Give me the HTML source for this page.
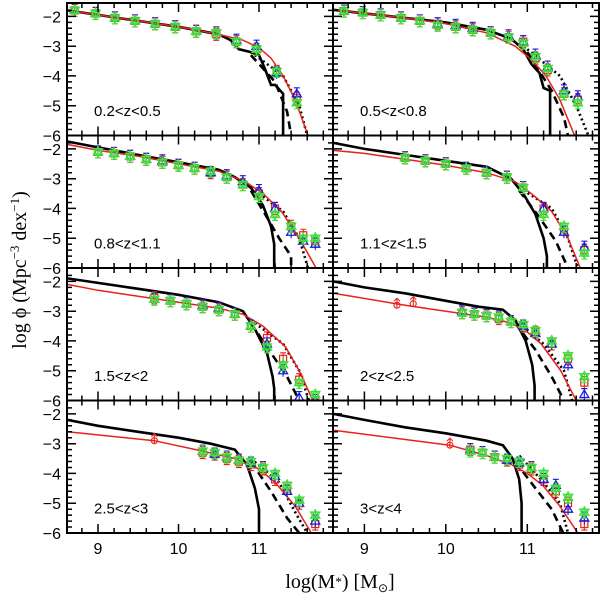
<!DOCTYPE html>
<html><head><meta charset="utf-8"><style>
html,body{margin:0;padding:0;background:#fff;}
svg{display:block;}
</style></head><body>
<svg id="chart" width="600" height="599" viewBox="0 0 600 599" xmlns="http://www.w3.org/2000/svg">
<g id="layer"></g>
<text x="340" y="588" text-anchor="middle" font-family="Liberation Serif, serif" font-size="20">log(M<tspan font-size="13" dy="-2">*</tspan><tspan dy="2">)  [M</tspan><tspan font-size="12" dy="4">⊙</tspan><tspan dy="-4">]</tspan></text>
<text transform="translate(26,270) rotate(-90)" text-anchor="middle" font-family="Liberation Serif, serif" font-size="20">log ϕ   (Mpc<tspan font-size="13" dy="-7">−3</tspan><tspan dy="7"> dex</tspan><tspan font-size="13" dy="-7">−1</tspan><tspan dy="7">)</tspan></text>
</svg>
<script>
const labels=["0.2<z<0.5","0.5<z<0.8","0.8<z<1.1","1.1<z<1.5","1.5<z<2","2<z<2.5","2.5<z<3","3<z<4"];
const redX=[[8.62,9,9.5,10,10.5,10.8,11,11.15,11.3,11.45,11.61],[8.62,9,9.5,10,10.5,10.85,11.05,11.23,11.4,11.58],[8.62,9,9.5,10,10.5,10.83,11.05,11.28,11.5,11.71],[8.62,9,9.5,10,10.5,10.85,11.05,11.3,11.5,11.65],[8.62,9,9.5,10,10.5,10.8,11.05,11.33,11.5,11.67],[8.62,9.5,10,10.5,10.8,11.0,11.17,11.41,11.6],[8.62,9.7,10.3,10.7,11.0,11.2,11.45,11.65],[8.62,10.05,10.5,10.8,11.0,11.19,11.4,11.62]];
const redY=[[-1.8,-1.95,-2.15,-2.35,-2.6,-2.8,-3.05,-3.4,-4.0,-4.8,-6],[-1.78,-1.9,-2.05,-2.25,-2.55,-3.0,-3.45,-4.0,-4.8,-6],[-1.85,-2.05,-2.25,-2.5,-2.75,-3.1,-3.5,-4.1,-5.0,-6],[-2.05,-2.15,-2.35,-2.55,-2.8,-3.1,-3.5,-4.1,-5.0,-6],[-2.1,-2.3,-2.5,-2.7,-2.9,-3.1,-3.5,-4.2,-5.0,-6],[-2.4,-2.8,-3.0,-3.2,-3.4,-3.7,-4.1,-5.0,-6],[-2.6,-2.9,-3.25,-3.5,-3.85,-4.3,-5.1,-6],[-2.55,-3.05,-3.4,-3.7,-4.0,-4.4,-5.1,-6]];
const solidX=[[8.62,9,9.5,10,10.5,10.65,10.75,10.9,11,11.08,11.15,11.2,11.3,11.3],[8.62,9,9.5,10,10.5,10.8,10.95,11.05,11.15,11.2,11.28,11.28],[8.62,9,9.5,10,10.5,10.7,10.9,11.05,11.15,11.19,11.19],[8.62,9,9.5,10,10.5,10.8,10.95,11.1,11.2,11.24,11.24],[8.62,9,9.5,10,10.5,10.8,10.95,11.1,11.17,11.19,11.19],[8.62,9,9.5,10,10.4,10.7,10.85,10.98,11.06,11.09,11.09],[8.62,9,9.5,10,10.4,10.7,10.85,10.95,11.0,11.0],[8.62,9,9.5,10,10.5,10.7,10.82,10.9,10.93,10.93]];
const solidY=[[-1.8,-1.95,-2.15,-2.35,-2.6,-2.8,-3.1,-3.2,-3.3,-3.8,-4.3,-4.3,-4.6,-6],[-1.78,-1.9,-2.05,-2.2,-2.45,-2.75,-3.1,-3.6,-3.9,-4.4,-4.5,-6],[-1.75,-1.95,-2.2,-2.45,-2.7,-2.95,-3.3,-3.9,-4.6,-5.2,-6],[-1.8,-2.0,-2.2,-2.4,-2.6,-3.0,-3.5,-4.2,-5.0,-5.6,-6],[-1.9,-2.05,-2.25,-2.45,-2.7,-3.0,-3.6,-4.4,-5.2,-5.6,-6],[-2.0,-2.2,-2.4,-2.65,-2.85,-2.95,-3.3,-4.0,-4.8,-5.5,-6],[-2.2,-2.4,-2.6,-2.8,-3.0,-3.2,-3.7,-4.5,-5.2,-6],[-2.0,-2.2,-2.45,-2.65,-2.9,-3.05,-3.5,-4.2,-5.0,-6]];
const dashX=[[10.9,11.2,11.35,11.4],[11.0,11.3,11.45,11.5],[10.9,11.1,11.25,11.4,11.4],[10.9,11.15,11.35,11.5],[10.9,11.15,11.35,11.5],[10.85,11.1,11.3,11.45],[10.9,11.15,11.35,11.5],[10.85,11.1,11.3,11.44]];
const dashY=[[-3.3,-4.2,-5.2,-6],[-3.2,-4.5,-5.4,-6],[-3.4,-4.3,-5.0,-5.6,-6],[-3.4,-4.3,-5.1,-6],[-3.4,-4.4,-5.2,-6],[-3.4,-4.3,-5.2,-6],[-3.6,-4.6,-5.5,-6],[-3.6,-4.5,-5.2,-6]];
const dotX=[[10.9,11.3,11.5,11.6],[11.0,11.4,11.6,11.75],[10.9,11.3,11.5,11.61],[10.9,11.3,11.5,11.62],[10.9,11.3,11.5,11.62],[10.85,11.2,11.45,11.55],[10.9,11.25,11.45,11.6],[10.9,11.2,11.4,11.5]];
const dotY=[[-3.2,-4.0,-5.0,-6],[-3.1,-4.0,-5.0,-6],[-3.3,-4.1,-5.0,-6],[-3.3,-4.0,-5.0,-6],[-3.3,-4.1,-5.0,-6],[-3.3,-4.1,-5.0,-6],[-3.5,-4.3,-5.3,-6],[-3.4,-4.3,-5.0,-6]];
const ptX=[[8.71,8.97,9.21,9.46,9.71,9.96,10.22,10.47,10.72,10.97,11.22,11.47],[8.75,8.98,9.2,9.45,9.68,9.9,10.12,10.33,10.55,10.77,10.95,11.1,11.25,11.45,11.62],[9.0,9.2,9.4,9.6,9.8,10.0,10.2,10.4,10.6,10.8,11.0,11.2,11.4,11.55,11.7],[9.5,9.75,10.0,10.25,10.5,10.75,10.95,11.2,11.45,11.7],[9.7,9.9,10.1,10.3,10.5,10.7,10.9,11.1,11.3,11.5,11.7],[10.2,10.35,10.5,10.65,10.8,10.95,11.1,11.3,11.5,11.7],[10.3,10.45,10.6,10.75,10.9,11.05,11.2,11.35,11.5,11.7],[10.3,10.45,10.6,10.75,10.9,11.05,11.2,11.35,11.5,11.7]];
const sqY=[[-1.8,-1.9,-2.05,-2.15,-2.25,-2.35,-2.5,-2.6,-2.85,-3.1,-3.85,-4.75],[-1.82,-1.87,-1.95,-2.05,-2.15,-2.25,-2.35,-2.45,-2.55,-2.7,-2.85,-3.4,-3.8,-4.6,-4.8],[-2.1,-2.15,-2.25,-2.35,-2.45,-2.55,-2.65,-2.8,-2.95,-3.2,-3.5,-4.0,-4.6,-4.9,-5.1],[-2.3,-2.4,-2.5,-2.65,-2.8,-2.95,-3.3,-4.0,-4.7,-5.4],[-2.55,-2.65,-2.75,-2.85,-2.95,-3.1,-3.5,-3.9,-4.6,-5.3,-6.0],[-3.05,-3.1,-3.15,-3.25,-3.35,-3.5,-3.7,-4.1,-4.6,-5.4],[-3.3,-3.35,-3.5,-3.6,-3.7,-3.85,-4.2,-4.5,-5.0,-5.7],[-3.2,-3.3,-3.45,-3.55,-3.7,-3.85,-4.2,-4.6,-5.0,-5.7]];
const triY=[[-1.78,-1.9,-2.05,-2.15,-2.25,-2.35,-2.5,-2.55,-2.8,-3.0,-3.9,-4.6],[-1.82,-1.87,-1.95,-2.05,-2.15,-2.25,-2.3,-2.4,-2.55,-2.65,-2.85,-3.3,-3.7,-4.5,-4.7],[-2.1,-2.15,-2.25,-2.35,-2.4,-2.55,-2.65,-2.8,-2.9,-3.1,-3.4,-4.0,-4.8,-5.1,-5.2],[-2.3,-2.4,-2.5,-2.65,-2.8,-2.95,-3.3,-4.0,-4.8,-5.3],[-2.6,-2.65,-2.75,-2.8,-2.9,-3.1,-3.5,-4.1,-5.0,-5.9,-6.0],[-3.0,-3.1,-3.15,-3.2,-3.35,-3.5,-3.75,-4.1,-4.8,-5.8],[-3.25,-3.35,-3.45,-3.55,-3.65,-3.8,-4.1,-4.6,-5.0,-5.6],[-3.2,-3.3,-3.45,-3.55,-3.65,-3.8,-4.2,-4.4,-5.2,-5.5]];
const starY=[[-1.8,-1.9,-2.05,-2.15,-2.25,-2.35,-2.5,-2.55,-2.85,-3.1,-3.85,-4.9],[-1.82,-1.87,-1.95,-2.05,-2.15,-2.3,-2.35,-2.45,-2.55,-2.7,-2.9,-3.35,-3.75,-4.6,-4.9],[-2.1,-2.15,-2.25,-2.35,-2.45,-2.55,-2.65,-2.75,-2.95,-3.2,-3.6,-4.2,-4.6,-5.0,-5.0],[-2.3,-2.4,-2.5,-2.65,-2.8,-2.95,-3.3,-4.2,-4.6,-5.5],[-2.6,-2.65,-2.75,-2.85,-2.95,-3.1,-3.5,-4.2,-4.8,-5.4,-5.8],[-3.05,-3.1,-3.15,-3.2,-3.35,-3.45,-3.65,-4.0,-4.5,-5.2],[-3.25,-3.3,-3.45,-3.55,-3.6,-3.8,-4.0,-4.4,-4.9,-5.4],[-3.25,-3.3,-3.45,-3.5,-3.6,-3.8,-4.0,-4.5,-4.8,-5.3]];
const limX=[[],[],[],[],[],[9.4,9.6],[9.7],[10.05]];
const limY=[[],[],[],[],[],[-2.8,-2.75],[-2.9],[-3.05]];
const xTicks=[9,10,11];
const yTicks=[-2,-3,-4,-5,-6];

const NS="http://www.w3.org/2000/svg";
const layer=document.getElementById('layer');
const XMIN=8.615,YMIN=-6,YMAX=-1.55;
const colXmax=[11.92,11.88];
const colX=[67,333],W=266,rowY=[3,135.5,268,400.5],H=132.5;
function mk(tag,attrs,parent){const e=document.createElementNS(NS,tag);for(const k in attrs)e.setAttribute(k,attrs[k]);(parent||layer).appendChild(e);return e;}
for(let p=0;p<8;p++){
  const c=p%2,r=Math.floor(p/2),x0=colX[c],y0=rowY[r],XMAX=colXmax[c];
  const sx=v=>x0+(v-XMIN)/(XMAX-XMIN)*W;
  const sy=v=>y0+(YMAX-v)/(YMAX-YMIN)*H;
  const g=mk('g',{});
  
  
  const cp=mk('clipPath',{id:'cp'+p},g);mk('rect',{x:x0,y:y0,width:W,height:H},cp);
  const inner=mk('g',{'clip-path':'url(#cp'+p+')'},g);
  const line=(xs,ys,attrs,name)=>{const d=xs.map((v,i)=>(i?'L':'M')+sx(v).toFixed(1)+' '+sy(ys[i]).toFixed(1)).join('');const e=mk('path',Object.assign({d:d,fill:'none'},attrs),inner);return e;};
  line(solidX[p],solidY[p],{stroke:'#000','stroke-width':2.6},'model-solid-line');
  line(dashX[p],dashY[p],{stroke:'#000','stroke-width':2.6,'stroke-dasharray':'8 5'},'model-dashed-line');
  line(dotX[p],dotY[p],{stroke:'#000','stroke-width':2.6,'stroke-dasharray':'2 3'},'model-dotted-line');
  line(redX[p],redY[p],{stroke:'#e8211c','stroke-width':1.5},'schechter-fit-line');
  ptX[p].forEach((xv,i)=>{
    const X=sx(xv);
    let Y=sy(sqY[p][i]);
    const s=mk('g',{},inner);
    mk('rect',{x:X-3.5,y:Y-3.5,width:7,height:7,fill:'none',stroke:'#e8211c','stroke-width':1.2},s);
    mk('path',{d:`M${X} ${Y-6}V${Y+6}M${X-3} ${Y-6}h6M${X-3} ${Y+6}h6`,stroke:'#e8211c','stroke-width':1.1,fill:'none'},s);
    Y=sy(triY[p][i]);
    const t=mk('g',{},inner);
    mk('path',{d:`M${X} ${Y-4.5}L${X+4.5} ${Y+3}L${X-4.5} ${Y+3}Z`,fill:'none',stroke:'#1a1adc','stroke-width':1.3},t);
    mk('path',{d:`M${X} ${Y-6}V${Y+6}M${X-3} ${Y-6}h6`,stroke:'#1a1adc','stroke-width':1.1,fill:'none'},t);
    Y=sy(starY[p][i]);
    const st=mk('g',{},inner);
    mk('path',{d:`M${X} ${Y-5}L${X+4.5} ${Y+3}L${X-4.5} ${Y+3}ZM${X} ${Y+5}L${X+4.5} ${Y-3}L${X-4.5} ${Y-3}Z`,fill:'none',stroke:'#3ee03a','stroke-width':1.4},st);
    mk('path',{d:`M${X} ${Y-6}V${Y+6}M${X-3} ${Y+6}h6`,stroke:'#3ee03a','stroke-width':1.1,fill:'none'},st);
  });
  limX[p].forEach((xv,i)=>{
    const X=sx(xv),Y=sy(limY[p][i]);
    const l=mk('g',{},inner);
    mk('circle',{cx:X,cy:Y,r:3,fill:'none',stroke:'#e8211c','stroke-width':1.1},l);
    mk('path',{d:`M${X} ${Y+3}V${Y-7}M${X-3} ${Y-4}L${X} ${Y-7}L${X+3} ${Y-4}`,stroke:'#e8211c','stroke-width':1.1,fill:'none'},l);
  });
  const fr=mk('rect',{x:x0,y:y0,width:W,height:H,fill:'none',stroke:'#000','stroke-width':2},g);
  
  let td='';
  for(let v=8.8;v<=11.9;v+=0.2){const X=sx(v);if(X>x0+W)break;const maj=Math.abs(v-Math.round(v))<0.01;const L=maj?9:5;td+=`M${X.toFixed(1)} ${y0+H}v${-L}M${X.toFixed(1)} ${y0}v${L}`;}
  for(let v=-6;v<=-1.6;v+=0.2){const Y=sy(v);const maj=Math.abs(v-Math.round(v))<0.01;const L=maj?9:5;td+=`M${x0} ${Y.toFixed(1)}h${L}M${x0+W} ${Y.toFixed(1)}h${-L}`;}
  mk('path',{d:td,stroke:'#000','stroke-width':1.5,fill:'none'},g);
  const lb=mk('text',{x:x0+27,y:y0+113,'font-family':'Liberation Sans, sans-serif','font-size':'15'},g);
  lb.textContent=labels[p];
  
  if(c===0){yTicks.forEach(v=>{const t=mk('text',{x:x0-6,y:sy(v)+6,'text-anchor':'end','font-family':'Liberation Sans, sans-serif','font-size':'16'},g);t.textContent='−'+Math.abs(v);});}
  if(r===3){xTicks.forEach(v=>{const t=mk('text',{x:sx(v),y:554,'text-anchor':'middle','font-family':'Liberation Sans, sans-serif','font-size':'16'},g);t.textContent=v;});}
}
</script>
</body></html>
